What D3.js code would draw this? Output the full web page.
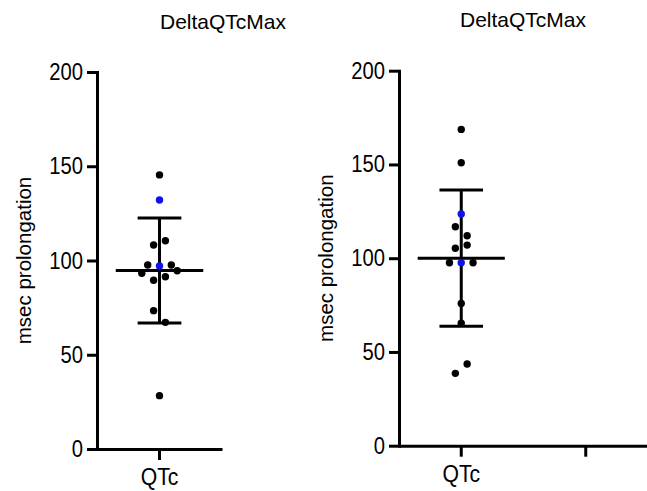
<!DOCTYPE html>
<html>
<head>
<meta charset="utf-8">
<script src="https://cdn.jsdelivr.net/npm/d3@7"></script>
<style>
  body { margin: 0; background: #fff; }
  svg { display: block; }
  .axis path, .axis line { stroke: #000; stroke-width: 3px; }
  .axis text { fill: #000; font-family: "Liberation Sans", Arial, sans-serif; }
  .lbl { font-family: "Liberation Sans", Arial, sans-serif; fill: #000; }
</style>
</head>
<body>
<div id="chart"></div>
<script>
// chart data
const panelTitle = "DeltaQTcMax";
const yLabel = "msec prolongation";
const yTicks = [0, 50, 100, 150, 200];
const leftCategories = ["QTc"];
const rightCategories = ["QTc", ""];
const leftValues = [145.4, 132.1, 108.2, 110.5, 97.6, 97.1, 97.6, 93.2, 89.5, 91.4, 94.6, 73.4, 67.2, 28.3];
const leftBlue   = [0, 1, 0, 0, 0, 1, 0, 0, 0, 0, 0, 0, 0, 0];
const rightValues = [168.7, 150.9, 123.6, 116.8, 112.0, 105.3, 107.0, 97.6, 97.6, 97.6, 75.9, 65.3, 38.6, 43.6];
const rightBlue   = [0, 0, 1, 0, 0, 0, 0, 0, 1, 0, 0, 0, 0, 0];

const width = 647, height = 491;
const dotR = 3.7, dotStep = 11.8;
const binWidth = 7.5, binOrigin = 96.5;

const svg = d3.select("#chart").append("svg")
    .attr("width", width)
    .attr("height", height);

// squeeze text a bit, the original uses a narrow face
function narrow(sel, k) {
    sel.each(function() {
        const w = this.getComputedTextLength();
        d3.select(this)
            .attr("textLength", w * k)
            .attr("lengthAdjust", "spacingAndGlyphs");
    });
}

// one graph pad style panel
function drawPanel(opts) {
    const g = svg.append("g");

    const x = d3.scaleBand()
        .domain(opts.categories)
        .range(opts.xRange);
    const y = d3.scaleLinear()
        .domain([0, 200])
        .range(opts.yRange);

    const bw = x.bandwidth();
    const cx = x(opts.categories[0]) + bw / 2;

    // mean and SD
    const mean = d3.mean(opts.values);
    const sd = d3.deviation(opts.values);

    g.append("line")
        .attr("x1", cx).attr("x2", cx)
        .attr("y1", y(mean + sd)).attr("y2", y(mean - sd))
        .attr("stroke", "#000").attr("stroke-width", 3);
    [mean + sd, mean - sd].forEach(v => {
        g.append("line")
            .attr("x1", cx - bw * 0.175).attr("x2", cx + bw * 0.175)
            .attr("y1", y(v)).attr("y2", y(v))
            .attr("stroke", "#000").attr("stroke-width", 3);
    });
    g.append("line")
        .attr("x1", cx - bw * 0.35).attr("x2", cx + bw * 0.35)
        .attr("y1", y(mean)).attr("y2", y(mean))
        .attr("stroke", "#000").attr("stroke-width", 3);

    // spread points sharing a row, like prism does
    const bins = d3.group(opts.values.map((v, i) => ({ v, i, blue: opts.blue[i] })),
        d => Math.floor((d.v - binOrigin) / binWidth));
    const pts = [];
    bins.forEach(arr => {
        arr.forEach((d, k) => {
            d.off = (k - (arr.length - 1) / 2) * dotStep;
            pts.push(d);
        });
    });

    g.selectAll(".dot")
        .data(pts)
        .enter()
        .append("circle")
        .attr("class", "dot")
        .attr("cx", d => cx + d.off)
        .attr("cy", d => y(d.v))
        .attr("r", dotR)
        .attr("fill", d => d.blue ? "#0d12ee" : "#000");

    // axes
    g.append("g")
        .attr("class", "axis")
        .attr("transform", "translate(" + opts.xRange[0] + ",0)")
        .call(d3.axisLeft(y).tickValues(yTicks).tickSize(10).tickSizeOuter(0).tickPadding(4))
        .call(a => a.selectAll("text").attr("font-size", 23.5).call(narrow, 0.86));

    g.append("g")
        .attr("class", "axis")
        .attr("transform", "translate(0," + opts.yRange[0] + ")")
        .call(d3.axisBottom(x).tickSize(11).tickSizeOuter(0).tickPadding(9))
        .call(a => a.selectAll("text").attr("font-size", 23).call(narrow, 0.92));

    g.select(".axis path").attr("stroke-linecap", "square");

    g.append("text")
        .attr("class", "lbl")
        .attr("x", opts.titleX)
        .attr("y", opts.titleY)
        .attr("text-anchor", "middle")
        .attr("font-size", 21)
        .text(panelTitle);

    g.append("text")
        .attr("class", "lbl")
        .attr("transform", "translate(" + opts.labelX + "," + (opts.yRange[0] + opts.yRange[1]) / 2 + ") rotate(-90)")
        .attr("text-anchor", "middle")
        .attr("font-size", 20.5)
        .text(yLabel);
}

drawPanel({
    categories: leftCategories,
    values: leftValues,
    blue: leftBlue,
    xRange: [97, 222],
    yRange: [449, 72],
    titleX: 223, titleY: 29,
    labelX: 31
});

drawPanel({
    categories: rightCategories,
    values: rightValues,
    blue: rightBlue,
    xRange: [399, 648],
    yRange: [445.7, 70.7],
    titleX: 523, titleY: 27,
    labelX: 333
});
</script>
</body>
</html>
